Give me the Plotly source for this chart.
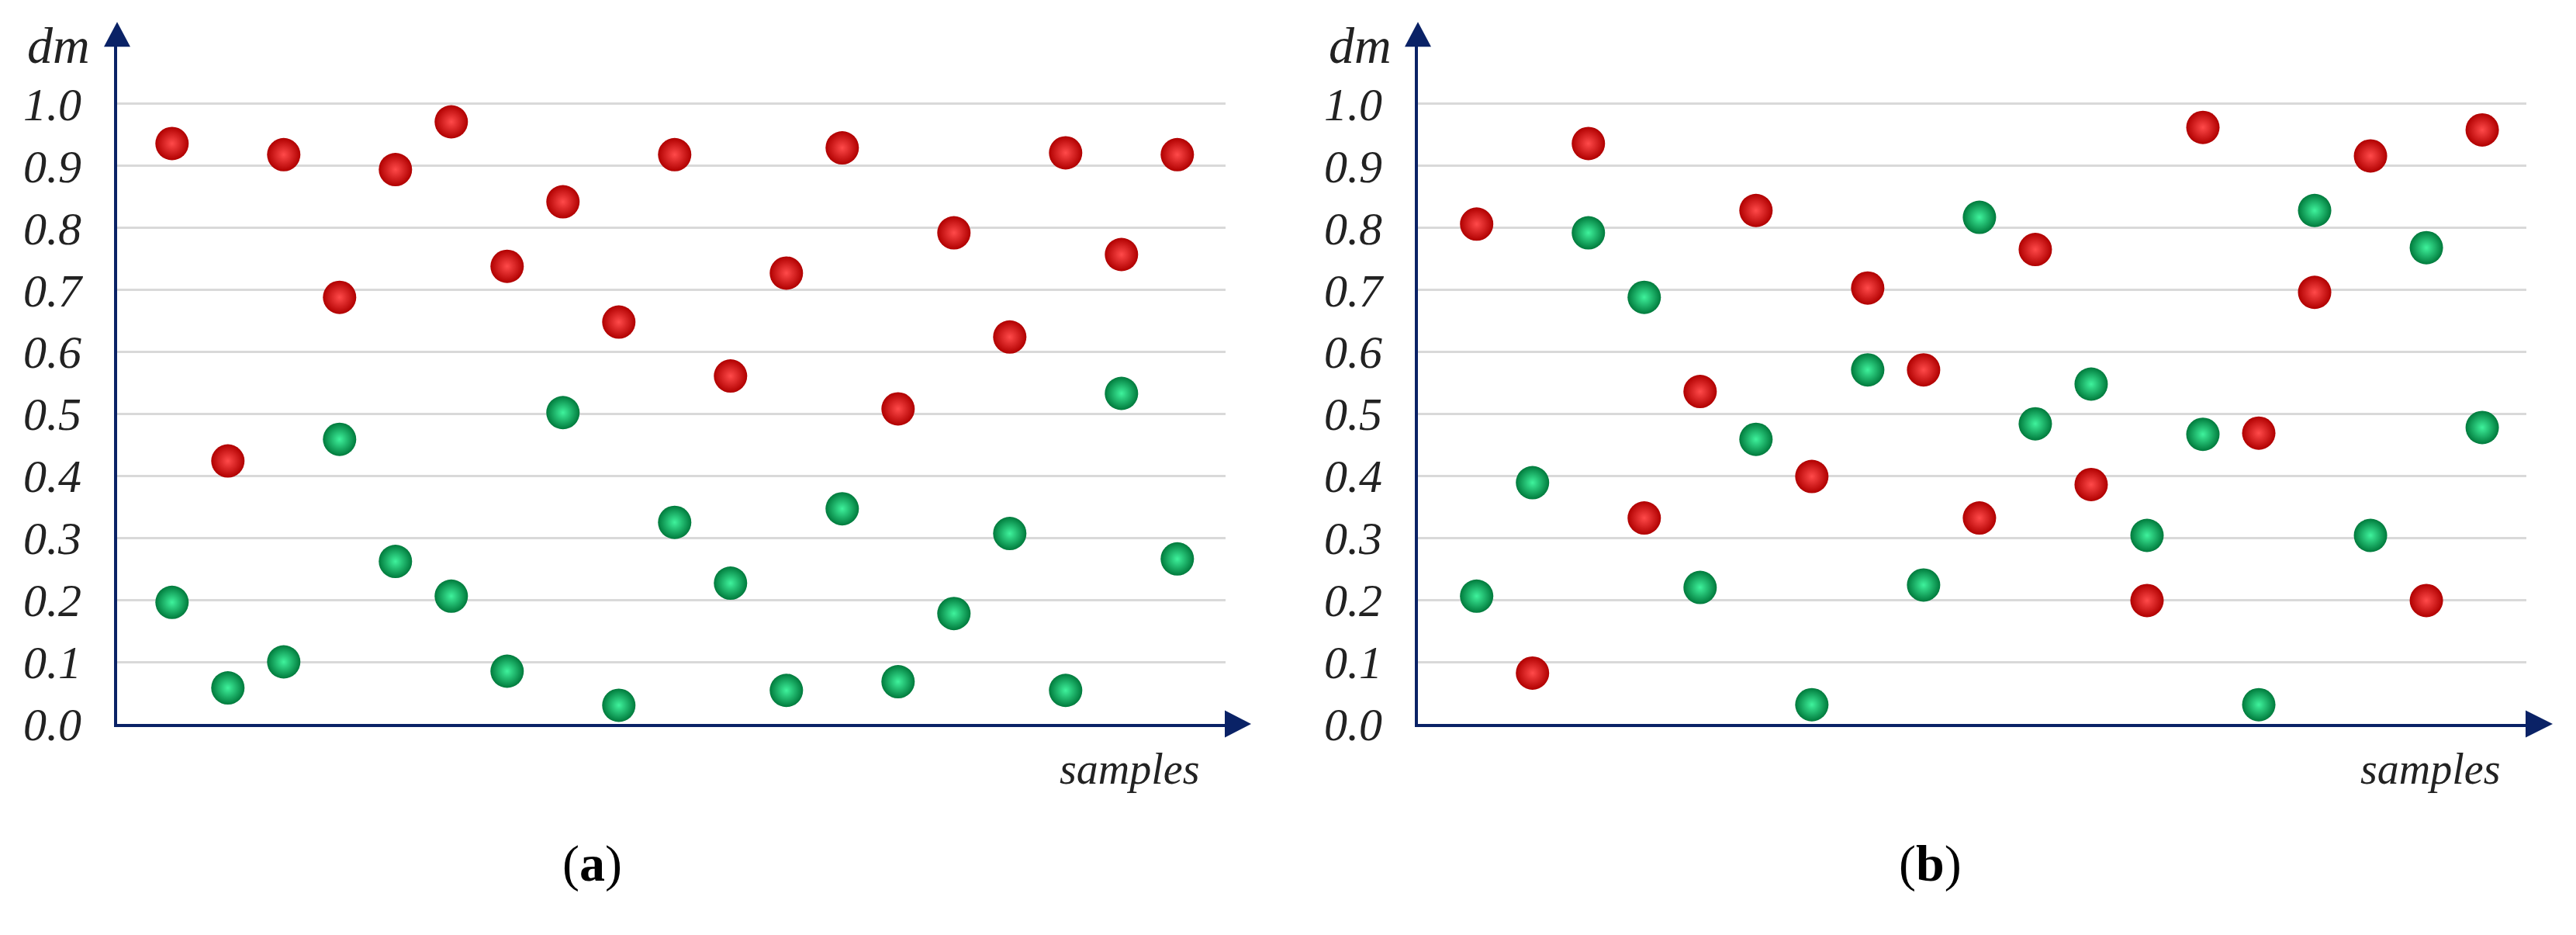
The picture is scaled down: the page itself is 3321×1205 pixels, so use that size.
import plotly.graph_objects as go

# ---------------- data ----------------
samples = list(range(1, 20))

red_a = [0.936, 0.424, 0.918, 0.688, 0.894, 0.971, 0.738, 0.842, 0.648, 0.918,
         0.561, 0.727, 0.929, 0.508, 0.792, 0.624, 0.921, 0.757, 0.918]
green_a = [0.196, 0.058, 0.100, 0.459, 0.262, 0.206, 0.085, 0.502, 0.030, 0.325,
           0.227, 0.054, 0.347, 0.068, 0.178, 0.307, 0.054, 0.533, 0.266]

red_b = [0.806, 0.082, 0.936, 0.332, 0.536, 0.828, 0.399, 0.703, 0.571, 0.332,
         0.765, 0.386, 0.199, 0.962, 0.469, 0.696, 0.916, 0.199, 0.958]
green_b = [0.206, 0.389, 0.792, 0.688, 0.220, 0.459, 0.031, 0.571, 0.224, 0.817,
           0.484, 0.548, 0.304, 0.467, 0.031, 0.828, 0.304, 0.768, 0.478]

y_ticks = [0.0, 0.1, 0.2, 0.3, 0.4, 0.5, 0.6, 0.7, 0.8, 0.9, 1.0]
y_label = "dm"
x_label = "samples"
panel_labels = ["(<b>a</b>)", "(<b>b</b>)"]

# ---------------- styling / geometry ----------------
W, H = 3321, 1205
AXIS_COLOR = "#0a2266"
GRID_COLOR = "#d9d9d9"
SERIF = "Liberation Serif"


def px(x):
    return x / W


def py(y):
    return 1 - y / H


fig = go.Figure()


def sphere_trace(xs, ys, center, edge, xa, ya):
    # radial gradient: gradient.color is the centre colour, marker.color the rim
    return go.Scatter(
        x=xs, y=ys, mode="markers", xaxis=xa, yaxis=ya, cliponaxis=False,
        showlegend=False, hoverinfo="skip",
        marker=dict(size=43, color=edge, line=dict(width=0),
                    gradient=dict(type="radial", color=center)),
    )


RED_C, RED_E = "#ff4a4a", "#b00000"
GRN_C, GRN_E = "#3ff29c", "#007a3c"

fig.add_trace(sphere_trace(samples, red_a, RED_C, RED_E, "x", "y"))
fig.add_trace(sphere_trace(samples, green_a, GRN_C, GRN_E, "x", "y"))
fig.add_trace(sphere_trace(samples, red_b, RED_C, RED_E, "x2", "y2"))
fig.add_trace(sphere_trace(samples, green_b, GRN_C, GRN_E, "x2", "y2"))

# panel geometry in pixels
panels = [
    dict(left=151, right=1580, xr=[0.017, 19.864], arrow_tip=1613,
         dm_right=118, samples_right=1548, label_cx=763),
    dict(left=1828, right=3257, xr=[-0.051, 19.79], arrow_tip=3291,
         dm_right=1796, samples_right=3225, label_cx=2488),
]
Y0, Y1, YTOP, YTIP = 960, 137.7, 62, 29
y_top_val = (Y0 - YTOP) / (Y0 - Y1)
ydom = [py(Y0), py(YTOP)]

tickfont = dict(family=SERIF, size=60, color="#222222")

layout = dict(
    width=W, height=H, margin=dict(l=0, r=0, t=0, b=0),
    paper_bgcolor="white", plot_bgcolor="white", showlegend=False,
)

shapes = []
annotations = []
for i, p in enumerate(panels):
    sfx = "" if i == 0 else str(i + 1)
    layout["xaxis" + sfx] = dict(
        domain=[px(p["left"]), px(p["right"])], range=p["xr"],
        showgrid=False, zeroline=False, showticklabels=False, ticks="",
        showline=True, linecolor=AXIS_COLOR, linewidth=4,
        anchor="y" + sfx,
    )
    layout["yaxis" + sfx] = dict(
        domain=ydom, range=[0, y_top_val],
        tickvals=y_ticks, ticktext=[f"<i>{v:.1f}</i>" for v in y_ticks],
        showgrid=True, gridcolor=GRID_COLOR, gridwidth=3,
        zeroline=False, ticks="", ticklabelstandoff=30,
        tickfont=tickfont,
        showline=True, linecolor=AXIS_COLOR, linewidth=4,
        anchor="x" + sfx,
    )
    # arrow heads (decoration)
    L = p["left"]
    shapes.append(dict(
        type="path", xref="paper", yref="paper", line=dict(width=0),
        fillcolor=AXIS_COLOR,
        path=f"M {px(L)},{py(YTIP)} L {px(L - 17)},{py(YTOP)} L {px(L + 17)},{py(YTOP)} Z",
    ))
    R = p["right"]
    T = p["arrow_tip"]
    shapes.append(dict(
        type="path", xref="paper", yref="paper", line=dict(width=0),
        fillcolor=AXIS_COLOR,
        path=f"M {px(T)},{py(Y0)} L {px(R - 1)},{py(Y0 - 18)} L {px(R - 1)},{py(Y0 + 18)} Z",
    ))
    annotations.append(dict(
        text=f"<i>{y_label}</i>", xref="paper", yref="paper", x=px(p["dm_right"]), y=py(60),
        xanchor="right", yanchor="middle", showarrow=False,
        font=dict(family=SERIF, size=66, color="#222222"),
    ))
    annotations.append(dict(
        text=f"<i>{x_label}</i>", xref="paper", yref="paper", x=px(p["samples_right"]), y=py(1020),
        xanchor="right", yanchor="middle", showarrow=False,
        font=dict(family=SERIF, size=56, color="#222222"),
    ))
    annotations.append(dict(
        text=panel_labels[i], xref="paper", yref="paper", x=px(p["label_cx"]), y=py(1145),
        xanchor="center", yanchor="middle", showarrow=False,
        font=dict(family=SERIF, size=66, color="#000000"),
    ))

layout["shapes"] = shapes
layout["annotations"] = annotations
fig.update_layout(**layout)

fig.write_html("out.html", config={"displayModeBar": False},
               post_script="document.body.style.margin='0';")
